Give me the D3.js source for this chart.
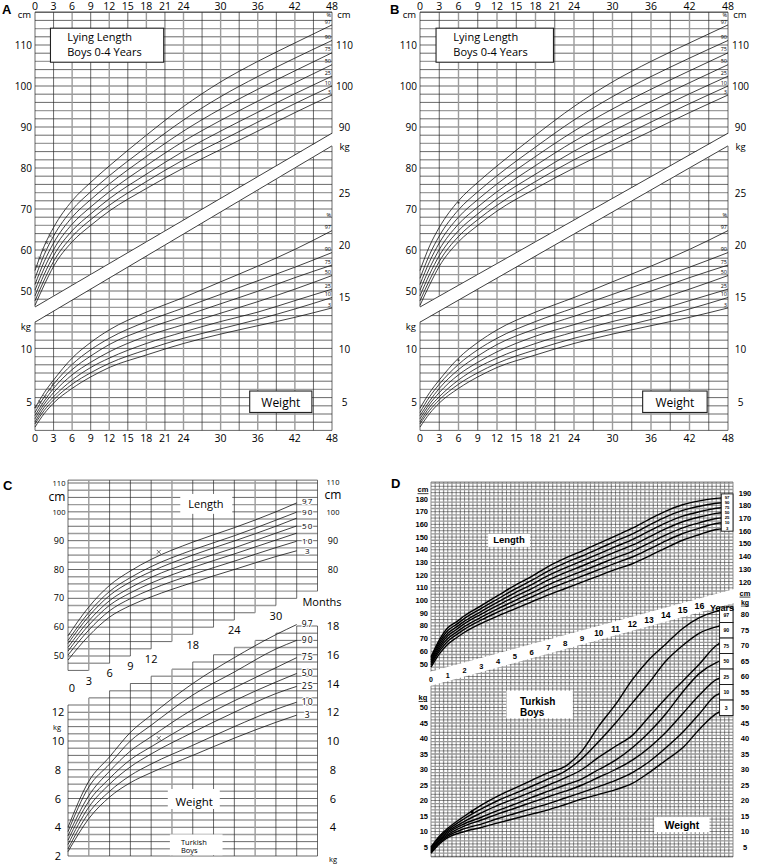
<!DOCTYPE html>
<html lang="en">
<head>
<meta charset="UTF-8">
<title>Growth charts</title>
<script src="https://cdnjs.cloudflare.com/ajax/libs/d3/7.8.5/d3.min.js"></script>
<style>
    body { margin: 0; background: #fff; }
    svg { display: block; font-family: "Open Sans", "DejaVu Sans", sans-serif; }
    .dk { stroke: #2a2a2a; stroke-width: 0.7; }
    .gr { stroke: #9c9c9c; stroke-width: 1.4; }
    .ddk { stroke: #2a2a2a; stroke-width: 0.55; }
    .dgr { stroke: #999; stroke-width: 1.3; }
    .curve { fill: none; stroke: #111; stroke-width: 0.8; }
    .dcurve { fill: none; stroke: #000; stroke-width: 1.4; }
    .bold { font-family: "Liberation Sans", Arial, sans-serif; font-weight: bold; }
</style>
</head>
<body>
<svg width="760" height="864"></svg>
<script>

    // ---------- A / B : lying length + weight, boys 0-4 years ----------
    var abMonths = [0, 1.5, 3, 6, 9, 12, 18, 24, 30, 36, 42, 48];
    var abLen97 = [55.0, 61.0, 65.5, 72.0, 76.5, 80.5, 88.0, 95.0, 101.0, 106.0, 110.5, 114.9];
    var abLen90 = [53.1, 58.9, 63.4, 69.8, 74.2, 78.1, 85.1, 91.7, 97.4, 102.3, 106.8, 111.1];
    var abLen75 = [51.6, 57.2, 61.7, 68.0, 72.3, 76.1, 82.8, 89.0, 94.4, 99.2, 103.7, 108.1];
    var abLen50 = [50.2, 55.6, 60.1, 66.3, 70.5, 74.2, 80.6, 86.5, 91.6, 96.3, 100.8, 105.2];
    var abLen25 = [48.8, 54.1, 58.6, 64.7, 68.8, 72.5, 78.5, 84.1, 89.0, 93.6, 98.1, 102.4];
    var abLen10 = [47.6, 52.7, 57.2, 63.3, 67.4, 70.9, 76.7, 82.0, 86.6, 91.2, 95.7, 100.0];
    var abLen3  = [46.5, 51.5, 56.0, 62.0, 66.0, 69.5, 75.0, 80.0, 84.5, 89.0, 93.5, 97.8];

    var abWt97 = [4.4, 5.9, 7.1, 9.2, 10.7, 11.9, 13.6, 15.0, 16.5, 18.0, 19.6, 21.4];
    var abWt90 = [4.0, 5.5, 6.7, 8.6, 10.0, 11.1, 12.7, 14.0, 15.3, 16.6, 17.9, 19.3];
    var abWt75 = [3.7, 5.1, 6.3, 8.1, 9.4, 10.5, 12.0, 13.2, 14.4, 15.6, 16.9, 18.1];
    var abWt50 = [3.4, 4.8, 5.9, 7.6, 8.8, 9.8, 11.3, 12.4, 13.5, 14.6, 15.8, 17.1];
    var abWt25 = [3.1, 4.5, 5.5, 7.1, 8.3, 9.2, 10.6, 11.7, 12.7, 13.6, 14.7, 15.8];
    var abWt10 = [2.9, 4.2, 5.2, 6.7, 7.8, 8.7, 10.0, 11.1, 12.0, 12.9, 13.9, 15.0];
    var abWt3  = [2.6, 3.9, 4.9, 6.3, 7.4, 8.3, 9.5, 10.6, 11.5, 12.3, 13.1, 14.0];

    var abPct = ['97', '90', '75', '50', '25', '10', '3'];
    var abMonthTicks = [0, 3, 6, 9, 12, 15, 18, 21, 24, 30, 36, 42, 48];
    var abLenTicks = [50, 60, 70, 80, 90, 100, 110];
    var abLenTicksRight = [90, 100, 110];
    var abWtTicksLeft = [5, 10];
    var abWtTicksRight = [5, 10, 15, 20, 25];

    // measurements plotted on chart A (crosses)
    var aLenMarkMonths = [0.3, 0.8, 1.4, 1.9, 2.5];
    var aLenMarkValues = [56.0, 58.0, 60.0, 61.8, 63.4];
    var aWtMarkMonths = [0.1, 0.8, 1.6, 2.4, 2.9];
    var aWtMarkValues = [4.6, 5.0, 5.5, 6.2, 6.7];
    // measurements plotted on chart B (dots)
    var bLenMarkMonths = [6.0];
    var bLenMarkValues = [71.5];
    var bWtMarkMonths = [6.0];
    var bWtMarkValues = [9.0];

    // ---------- C : Turkish boys 0-36 months ----------
    var cMonths = [0, 3, 6, 9, 12, 18, 24, 30, 33];
    var cLen97 = [57.0, 67.0, 74.5, 79.5, 83.5, 89.5, 94.5, 100.0, 103.1];
    var cLen90 = [55.4, 65.1, 72.4, 77.2, 81.0, 86.8, 91.7, 97.1, 99.9];
    var cLen75 = [54.3, 63.8, 71.0, 75.7, 79.3, 85.0, 89.9, 95.0, 97.8];
    var cLen50 = [53.0, 62.2, 69.2, 73.7, 77.3, 82.8, 87.5, 92.6, 95.1];
    var cLen25 = [51.7, 60.7, 67.6, 71.9, 75.3, 80.7, 85.4, 90.2, 92.6];
    var cLen10 = [50.3, 59.0, 65.7, 69.9, 73.1, 78.3, 82.9, 87.6, 89.8];
    var cLen3  = [48.6, 57.0, 63.5, 67.5, 70.5, 75.5, 80.0, 84.5, 86.5];

    var cWt97 = [4.0, 7.2, 8.9, 10.6, 11.8, 14.0, 15.8, 17.4, 18.1];
    var cWt90 = [3.7, 6.8, 8.4, 10.0, 11.1, 13.2, 14.8, 16.4, 17.0];
    var cWt75 = [3.4, 6.2, 7.9, 9.3, 10.3, 12.2, 13.7, 15.1, 15.8];
    var cWt50 = [3.1, 5.8, 7.4, 8.7, 9.6, 11.3, 12.8, 14.1, 14.7];
    var cWt25 = [2.8, 5.4, 7.0, 8.2, 9.1, 10.6, 12.0, 13.3, 13.8];
    var cWt10 = [2.5, 5.0, 6.5, 7.6, 8.4, 9.7, 11.0, 12.2, 12.7];
    var cWt3  = [2.3, 4.6, 6.1, 7.1, 7.8, 9.0, 10.2, 11.3, 11.8];

    var cLenPctShown = ['97', '90', '', '50', '', '10', '3'];
    var cMonthLabels = [0, 3, 6, 9, 12, 18, 24, 30];
    var cLenTicksLeft = [50, 60, 70, 80, 90, 100, 110];
    var cLenTicksRight = [80, 90, 100, 110];
    var cWtTicksLeft = [2, 4, 6, 8, 10, 12];
    var cWtTicksRight = [4, 6, 8, 10, 12, 14, 16, 18];
    var cMarkMonth = [13.1];
    var cMarkLen = [86.1];
    var cMarkWt = [10.2];

    // ---------- D : Turkish boys 0-18 years ----------
    var dAgesL = [0, 0.5, 1, 1.5, 2, 3, 4, 5, 6, 7, 8, 9, 10, 11, 12, 13, 14, 15, 16, 17, 18];
    var dLen97 = [55.6, 69.0, 78.5, 83.0, 88.0, 96.0, 104.0, 112.0, 119.0, 127.0, 133.5, 139.0, 145.0, 151.0, 157.0, 164.0, 170.5, 175.5, 178.5, 180.5, 181.5];
    var dLen90 = [54.3, 67.2, 76.4, 81.0, 85.9, 93.8, 101.4, 109.0, 115.8, 123.4, 129.7, 135.1, 140.9, 146.8, 152.5, 159.4, 165.9, 171.0, 174.3, 176.6, 177.6];
    var dLen75 = [53.0, 65.5, 74.3, 79.0, 83.8, 91.5, 98.9, 106.1, 112.6, 119.8, 125.8, 131.2, 136.8, 142.5, 148.0, 154.7, 161.2, 166.5, 170.0, 172.7, 173.7];
    var dLen50 = [51.7, 63.7, 72.3, 77.0, 81.8, 89.3, 96.3, 103.1, 109.4, 116.2, 122.0, 127.2, 132.8, 138.3, 143.6, 150.1, 156.6, 162.1, 165.8, 168.7, 169.7];
    var dLen25 = [50.3, 61.9, 70.0, 74.9, 79.6, 86.9, 93.6, 100.0, 106.0, 112.4, 117.9, 123.1, 128.4, 133.8, 138.8, 145.2, 151.7, 157.3, 161.3, 164.6, 165.6];
    var dLen10 = [49.0, 60.1, 68.0, 72.9, 77.5, 84.7, 91.0, 97.0, 102.8, 108.8, 114.1, 119.2, 124.3, 129.5, 134.3, 140.5, 147.0, 152.8, 157.0, 160.7, 161.7];
    var dLen3  = [47.5, 58.0, 65.5, 70.5, 75.0, 82.0, 88.0, 93.5, 99.0, 104.5, 109.5, 114.5, 119.5, 124.5, 129.0, 135.0, 141.5, 147.5, 152.0, 156.0, 157.0];

    var dAgesW = [0, 0.5, 1, 2, 3, 4, 5, 6, 7, 8, 9, 10, 11, 12, 13, 14, 15, 16, 17, 18];
    var dWt97 = [5.0, 8.5, 11.0, 15.0, 18.5, 21.5, 24.0, 26.5, 29.0, 31.0, 36.0, 44.0, 51.0, 59.0, 65.5, 70.5, 75.5, 79.0, 81.0, 82.0];
    var dWt90 = [4.7, 8.1, 10.5, 14.2, 17.3, 20.0, 22.3, 24.6, 27.0, 29.5, 33.5, 39.0, 45.0, 51.5, 58.0, 65.0, 70.0, 74.0, 76.0, 77.0];
    var dWt75 = [4.3, 7.6, 10.0, 13.3, 16.0, 18.5, 20.6, 22.8, 25.0, 27.3, 30.0, 34.0, 37.5, 41.0, 47.0, 53.0, 58.5, 64.0, 70.0, 72.0];
    var dWt50 = [4.0, 7.2, 9.5, 12.5, 14.6, 16.8, 18.8, 21.0, 23.0, 25.0, 27.0, 30.0, 33.0, 37.0, 42.0, 48.0, 55.0, 61.0, 64.5, 66.0];
    var dWt25 = [3.7, 6.9, 9.0, 11.8, 13.7, 15.7, 17.5, 19.4, 21.2, 23.0, 25.0, 27.5, 30.0, 33.0, 37.0, 42.0, 48.0, 54.0, 59.0, 60.5];
    var dWt10 = [3.3, 6.4, 8.5, 10.9, 12.4, 14.2, 15.8, 17.4, 19.0, 20.8, 22.6, 24.5, 26.5, 29.0, 32.5, 37.0, 42.0, 48.0, 54.0, 55.5];
    var dWt3  = [3.0, 6.0, 8.0, 10.0, 11.3, 12.8, 14.2, 15.6, 17.0, 18.7, 20.5, 22.0, 23.5, 25.5, 29.0, 33.0, 37.0, 43.0, 48.0, 50.0];

    var dYearLabels = [0, 1, 2, 3, 4, 5, 6, 7, 8, 9, 10, 11, 12, 13, 14, 15, 16];
    var dLenTicksLeft = [50, 60, 70, 80, 90, 100, 110, 120, 130, 140, 150, 160, 170, 180];
    var dLenTicksRight = [120, 130, 140, 150, 160, 170, 180, 190];
    var dWtTicks = [5, 10, 15, 20, 25, 30, 35, 40, 45, 50];
    var dWtTicksRight = [5, 10, 15, 20, 25, 30, 35, 40, 45, 50, 55, 60, 65, 70, 75, 80];
    var dMarkAge = [2.45];
    var dMarkWt = [16.3];


    var svg = d3.select('svg');
    svg.append('rect').attr('width', 760).attr('height', 864).attr('fill', '#fff');
    var defs = svg.append('defs');

    function line(g, x1, x2, y1, y2, cls) {
        return g.append('line').attr('x1', x1).attr('x2', x2).attr('y1', y1).attr('y2', y2).attr('class', cls);
    }

    function text(g, s, x, y, size, anchor) {
        return g.append('text').attr('x', x).attr('y', y).attr('font-size', size)
                .attr('text-anchor', anchor || 'middle').text(s);
    }

    function cross(g, cx, cy, r) {
        g.append('path').attr('d', 'M' + (cx - r) + ',' + (cy - r) + 'L' + (cx + r) + ',' + (cy + r) +
                'M' + (cx - r) + ',' + (cy + r) + 'L' + (cx + r) + ',' + (cy - r))
            .attr('stroke', '#333').attr('stroke-width', 0.7);
    }

    // ---------------- A and B ----------------
    function drawAB(x0, x1, marks) {
        var g = svg.append('g');
        var x = d3.scaleLinear().domain([0, 48]).range([x0, x1]);
        var yL = d3.scaleLinear().domain([50, 110]).range([291, 45]);
        var yW = d3.scaleLinear().domain([5, 25]).range([402, 193]);

        // one grid through both parts, 2 cm spacing
        d3.range(16, 118.1, 2).forEach(function(c) {
            line(g, x(0), x(48), yL(c), yL(c), (c % 4 === 2) ? 'gr' : 'dk');
        });
        d3.range(0, 49, 3).forEach(function(m) {
            line(g, x(m), x(m), yL(118), yL(16), (m % 6 === 0 && m > 0 && m < 48) ? 'gr' : 'dk');
        });
        line(g, x(0), x(48), yL(118), yL(118), 'dk');

        // white diagonal band between length and weight grids
        var up0 = yL(46.1), up1 = yL(88.5), lo0 = yL(42.4), lo1 = yL(85.4);
        g.append('polygon')
            .attr('points', [[x(0) - 1, up0], [x(48) + 1, up1], [x(48) + 1, lo1], [x(0) - 1, lo0]].join(' '))
            .attr('fill', '#fff');
        line(g, x(0), x(48), up0, up1, 'dk').style('stroke-width', 0.9);
        line(g, x(0), x(48), lo0, lo1, 'dk').style('stroke-width', 0.9);

        var lenLine = d3.line().x(function(d, i) { return x(abMonths[i]); })
                        .y(function(d) { return yL(d); }).curve(d3.curveMonotoneX);
        var wtLine = d3.line().x(function(d, i) { return x(abMonths[i]); })
                        .y(function(d) { return yW(d); }).curve(d3.curveMonotoneX);

        var lens = [abLen97, abLen90, abLen75, abLen50, abLen25, abLen10, abLen3];
        var wts = [abWt97, abWt90, abWt75, abWt50, abWt25, abWt10, abWt3];

        lens.forEach(function(s, i) {
            g.append('path').attr('class', 'curve').attr('d', lenLine(s));
            text(g, abPct[i], x(48) - 1, yL(s[s.length - 1]) - 1.3, 5.5, 'end');
        });
        wts.forEach(function(s, i) {
            g.append('path').attr('class', 'curve').attr('d', wtLine(s));
            text(g, abPct[i], x(48) - 1, yW(s[s.length - 1]) - 1.3, 5.5, 'end');
        });
        text(g, '%', x(48) - 1, yL(116.8), 5.5, 'end');
        text(g, '%', x(48) - 1, yW(22.7), 5.5, 'end');

        // measurements
        if (marks === 'cross') {
            aLenMarkMonths.forEach(function(m, i) { cross(g, x(m), yL(aLenMarkValues[i]), 1.6); });
            aWtMarkMonths.forEach(function(m, i) { cross(g, x(m), yW(aWtMarkValues[i]), 1.6); });
        } else {
            bLenMarkMonths.forEach(function(m, i) {
                g.append('circle').attr('cx', x(m)).attr('cy', yL(bLenMarkValues[i])).attr('r', 1).attr('fill', '#333');
            });
            bWtMarkMonths.forEach(function(m, i) {
                g.append('circle').attr('cx', x(m)).attr('cy', yW(bWtMarkValues[i])).attr('r', 1).attr('fill', '#333');
            });
        }

        // title and weight boxes
        g.append('rect').attr('x', x(2.5)).attr('y', yL(114.1)).attr('width', x(20.8) - x(2.5))
            .attr('height', yL(105.8) - yL(114.1)).attr('fill', '#fff').attr('stroke', '#222').attr('stroke-width', 1.1);
        text(g, 'Lying Length', x(5.2), yL(110.9), 11, 'start');
        text(g, 'Boys 0-4 Years', x(5.2), yL(107.3), 11, 'start');
        g.append('rect').attr('x', x(34.7)).attr('y', yW(6.05)).attr('width', x(44.75) - x(34.7))
            .attr('height', yW(4.0) - yW(6.05)).attr('fill', '#fff').attr('stroke', '#222').attr('stroke-width', 1.1);
        text(g, 'Weight', (x(34.7) + x(44.75)) / 2, yW(4.55), 12);

        // axes labels
        abMonthTicks.forEach(function(m) {
            text(g, m, x(m), 9.5, 10.5);
            text(g, m, x(m), 442, 10.5);
        });
        abLenTicks.forEach(function(v) { text(g, v, x(0) - 3, yL(v) + 3.5, 10, 'end'); });
        abLenTicksRight.forEach(function(v) { text(g, v, x(48) + 12.5, yL(v) + 3.5, 10); });
        abWtTicksLeft.forEach(function(v) { text(g, v, x(0) - 3, yW(v) + 3.5, 10, 'end'); });
        abWtTicksRight.forEach(function(v) { text(g, v, x(48) + 12.5, yW(v) + 3.5, 10); });
        text(g, 'cm', x(0) - 4, yL(117.3) + 3, 9.5, 'end');
        text(g, 'cm', x(48) + 12, yL(117.3) + 3, 9.5);
        text(g, 'kg', x(0) - 4, yW(12.2) + 3, 9.5, 'end');
        text(g, 'kg', x(48) + 12.5, yW(29.4) + 3, 9.5);
    }

    drawAB(35, 332, 'cross');
    drawAB(420, 728, 'dot');

    // ---------------- C ----------------
    (function drawC() {
        var g = svg.append('g');
        var x = d3.scaleLinear().domain([0, 36]).range([68, 317.5]);
        var yL = d3.scaleLinear().domain([50, 110]).range([656, 483]);
        var yW = d3.scaleLinear().domain([2, 18]).range([856, 626]);
        var lenFloor = function(k) { return 45 + 2.5 * k; };  // lowest cm line in column k
        var wtCeil = function(k) { return 12.5 + 0.5 * k; };  // top kg line in column k

        d3.range(45, 110.1, 2.5).forEach(function(c, i) {
            var kMax = Math.min(11, Math.floor((c - 45) / 2.5 + 1e-6));
            line(g, x(0), x(3 * (kMax + 1)), yL(c), yL(c), i % 2 ? 'gr' : 'dk');
        });
        line(g, x(0), x(36), yL(111), yL(111), 'dk');
        d3.range(2, 18.01, 0.5).forEach(function(w, i) {
            var kMin = w <= 12.5 ? 0 : Math.ceil(2 * (w - 12.5) - 1e-6);
            if (kMin > 11) return;
            line(g, x(3 * kMin), x(36), yW(w), yW(w), i % 2 ? 'gr' : 'dk');
        });
        d3.range(0, 13).forEach(function(j) {
            var cls = (j === 1 || j === 5 || j === 9) ? 'gr' : 'dk';
            line(g, x(3 * j), x(3 * j), yL(111), yL(lenFloor(j === 0 ? 0 : j - 1)), cls);
            line(g, x(3 * j), x(3 * j), yW(wtCeil(j === 12 ? 11 : j)), yW(2), cls);
        });

        // white label boxes cut the grid
        function box(xa, xb, ya, yb) {
            g.append('rect').attr('x', xa).attr('y', ya).attr('width', xb - xa).attr('height', yb - ya).attr('fill', '#fff');
        }
        box(x(16.2), x(23.7), yL(106.2), yL(99.3));
        box(x(14.4), x(21.9), yW(6.66), yW(5.27));
        box(x(14.7), x(22.3), yW(3.5), yW(2.05));
        text(g, 'Length', x(19.9), yL(101.4), 11);
        text(g, 'Weight', x(18.2), yW(5.5), 11.5);
        text(g, 'Turkish', x(16.3), yW(2.8), 7.5, 'start');
        text(g, 'Boys', x(16.3), yW(2.2), 7.5, 'start');

        var lenLine = d3.line().x(function(d, i) { return x(cMonths[i]); })
                        .y(function(d) { return yL(d); }).curve(d3.curveMonotoneX);
        var wtLine = d3.line().x(function(d, i) { return x(cMonths[i]); })
                        .y(function(d) { return yW(d); }).curve(d3.curveMonotoneX);
        var lens = [cLen97, cLen90, cLen75, cLen50, cLen25, cLen10, cLen3];
        var wts = [cWt97, cWt90, cWt75, cWt50, cWt25, cWt10, cWt3];

        lens.forEach(function(s, i) {
            g.append('path').attr('class', 'curve').attr('d', lenLine(s));
            if (cLenPctShown[i]) {
                text(g, cLenPctShown[i], x(34.6), yL(s[s.length - 1]) + (i === 0 ? 1.2 : 3.2), 8).attr('letter-spacing', 1.2)
                    .attr('paint-order', 'stroke').attr('stroke', '#fff').attr('stroke-width', 2);
            }
        });
        wts.forEach(function(s, i) {
            g.append('path').attr('class', 'curve').attr('d', wtLine(s));
            text(g, abPct[i], x(34.6), yW(s[s.length - 1]) + 2.8, 8.5).attr('letter-spacing', 1.2)
                .attr('paint-order', 'stroke').attr('stroke', '#fff').attr('stroke-width', 2);
        });
        cMarkMonth.forEach(function(m, i) {
            cross(g, x(m), yL(cMarkLen[i]), 2);
            cross(g, x(m), yW(cMarkWt[i]), 2);
        });

        // month labels in the white staircase band
        cMonthLabels.forEach(function(m) {
            var k = m / 3;
            var yc = (yL(lenFloor(k)) + yW(wtCeil(k))) / 2;
            text(g, m, x(m) + (m === 0 ? 4 : 0), yc + 4, 11);
        });
        text(g, 'Months', 322, yL(67.3), 11);

        cLenTicksLeft.forEach(function(v) {
            text(g, v, 59, yL(v) + 3, v >= 100 ? 7.5 : 9);
        });
        text(g, 'cm', 57, yL(105.3) + 4, 12);
        cLenTicksRight.forEach(function(v) {
            text(g, v, 333, yL(v) + (v === 110 ? 2 : 3), v >= 100 ? 7.5 : 9);
        });
        text(g, 'cm', 333, yL(105.8) + 4, 12);
        cWtTicksLeft.forEach(function(v) { text(g, v, 58, yW(v) + 4, 11); });
        text(g, 'kg', 57, yW(11) + 3, 7.5);
        cWtTicksRight.forEach(function(v) { text(g, v, 333, yW(v) + 4, 11); });
        text(g, 'kg', 333, yW(1.9) + 5, 7.5);
    })();

    // ---------------- D ----------------
    (function drawD() {
        var g = svg.append('g');
        var x = d3.scaleLinear().domain([0, 18]).range([431, 733]);
        var yL = d3.scaleLinear().domain([50, 180]).range([664, 499]);
        var yLr = d3.scaleLinear().domain([120, 190]).range([582, 493]);
        var yW = d3.scaleLinear().domain([5, 80]).range([847, 614.5]);
        var top = yL(193.4), bottom = yW(1.8);
        var up0 = yL(43.8), up1 = yL(109.1), lo0 = yW(56.9), lo1 = yW(83.7);

        defs.append('clipPath').attr('id', 'dLen').append('polygon')
            .attr('points', [[x(0) - 1, top - 1], [x(18) + 1, top - 1], [x(18) + 1, up1], [x(0) - 1, up0]].join(' '));
        defs.append('clipPath').attr('id', 'dWt').append('polygon')
            .attr('points', [[x(0) - 1, lo0], [x(18) + 1, lo1], [x(18) + 1, bottom + 1], [x(0) - 1, bottom + 1]].join(' '));

        var gl = g.append('g').attr('clip-path', 'url(#dLen)');
        var gw = g.append('g').attr('clip-path', 'url(#dWt)');
        [gl, gw].forEach(function(gg) {
            d3.range(0, 18.01, 0.25).forEach(function(a, i) {
                line(gg, x(a), x(a), top, bottom, i % 2 ? 'dgr' : 'ddk');
            });
        });
        d3.range(40, 193.5, 2.5).forEach(function(c, i) {
            line(gl, x(0), x(18), yL(c), yL(c), i % 2 ? 'dgr' : 'ddk');
        });
        line(gl, x(0), x(18), top, top, 'ddk');
        d3.range(2, 90, 1).forEach(function(w, i) {
            line(gw, x(0), x(18), yW(w), yW(w), i % 2 ? 'dgr' : 'ddk');
        });
        line(gw, x(0), x(18), bottom, bottom, 'ddk');

        function box(xa, xb, ya, yb, stroke) {
            g.append('rect').attr('x', xa).attr('y', ya).attr('width', xb - xa).attr('height', yb - ya)
                .attr('fill', '#fff').attr('stroke', stroke ? '#111' : 'none').attr('stroke-width', 0.9);
        }

        var lenLine = d3.line().x(function(d, i) { return x(dAgesL[i]); })
                        .y(function(d) { return yL(d); }).curve(d3.curveMonotoneX);
        var wtLine = d3.line().x(function(d, i) { return x(dAgesW[i]); })
                        .y(function(d) { return yW(d); }).curve(d3.curveMonotoneX);
        var lens = [dLen97, dLen90, dLen75, dLen50, dLen25, dLen10, dLen3];
        var wts = [dWt97, dWt90, dWt75, dWt50, dWt25, dWt10, dWt3];
        lens.forEach(function(s) { g.append('path').attr('class', 'dcurve').attr('d', lenLine(s)); });
        wts.forEach(function(s) { g.append('path').attr('class', 'dcurve').attr('d', wtLine(s)); });
        dMarkAge.forEach(function(a, i) {
            g.append('circle').attr('cx', x(a)).attr('cy', yW(dMarkWt[i])).attr('r', 1.6).attr('fill', '#000');
        });

        // percentile label boxes at the right end
        box(x(17.3), x(18), yLr(189.3), yLr(160), true);
        lens.forEach(function(s, i) {
            text(g, abPct[i], (x(17.3) + x(18)) / 2, yL(s[s.length - 1]) + 1.6, 4.3).attr('class', 'bold');
        });
        abPct.forEach(function(p, i) {
            box(x(17.2), x(18), yW(82.4 - 5 * i), yW(77.4 - 5 * i), true);
            text(g, p, (x(17.2) + x(18)) / 2, yW(79.9 - 5 * i) + 1.8, 5.2).attr('class', 'bold');
        });

        // labels in white boxes
        box(x(3.4), x(5.9), yL(152.5), yL(142.3));
        text(g, 'Length', x(4.65), yL(145.3), 9.5).attr('class', 'bold');
        box(x(4.5), x(8.45), yW(55.4), yW(46.5));
        text(g, 'Turkish', x(5.3), yW(50.9), 10, 'start').attr('class', 'bold');
        text(g, 'Boys', x(5.3), yW(47.3), 10, 'start').attr('class', 'bold');
        box(x(13.3), x(16.6), yW(14.7), yW(9.8));
        text(g, 'Weight', x(14.95), yW(10.9), 10.5).attr('class', 'bold');

        // year labels in the diagonal band
        dYearLabels.forEach(function(a) {
            var t = a / 18;
            var yc = ((up0 + (up1 - up0) * t) + (lo0 + (lo1 - lo0) * t)) / 2;
            text(g, a, x(a), yc + 3.5, 7 + a * 0.12).attr('class', 'bold');
        });
        text(g, 'Years', 722, yW(81.2), 9).attr('class', 'bold');

        dLenTicksLeft.forEach(function(v) { text(g, v, 428, yL(v) + 2.5, 7.5, 'end').attr('class', 'bold'); });
        text(g, 'cm', 423, yL(187.2) + 2.5, 7.5).attr('class', 'bold').attr('text-decoration', 'underline');
        dLenTicksRight.forEach(function(v) { text(g, v, 745, yLr(v) + 2.5, 7.5).attr('class', 'bold'); });
        text(g, 'cm', 745, yLr(111.2) + 2.5, 7.5).attr('class', 'bold').attr('text-decoration', 'underline');
        dWtTicks.forEach(function(v) { text(g, v, 428, yW(v) + 2.5, 7.5, 'end').attr('class', 'bold'); });
        text(g, 'kg', 423, yW(53.2) + 2.5, 7.5).attr('class', 'bold').attr('text-decoration', 'underline');
        dWtTicksRight.forEach(function(v) { text(g, v, 745, yW(v) + 2.5, 7.5).attr('class', 'bold'); });
        text(g, 'kg', 745, yW(83.8) + 2, 7).attr('class', 'bold').attr('text-decoration', 'underline');
    })();

    // panel letters
    [['A', 2, 14], ['B', 390, 14], ['C', 3, 490], ['D', 391, 488]].forEach(function(p) {
        text(svg, p[0], p[1], p[2], 13, 'start').attr('class', 'bold');
    });

</script>
</body>
</html>
